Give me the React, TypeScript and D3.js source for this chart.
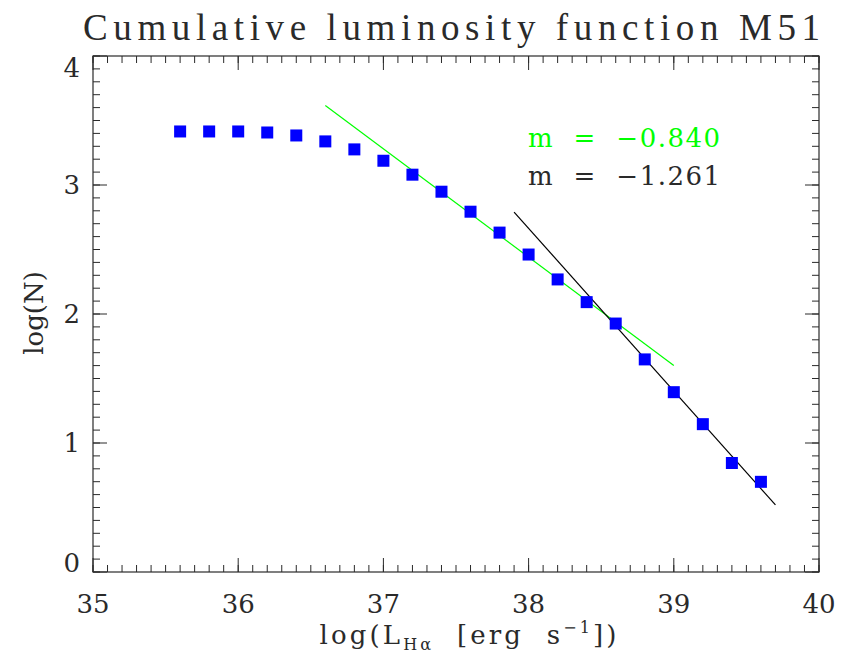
import React from "react";
import * as d3 from "d3";

const xs = [35.6, 35.8, 36.0, 36.2, 36.4, 36.6, 36.8, 37.0, 37.2, 37.4, 37.6, 37.8, 38.0, 38.2, 38.4, 38.6, 38.8, 39.0, 39.2, 39.4, 39.6];
const logN = [3.415, 3.415, 3.415, 3.407, 3.384, 3.338, 3.276, 3.188, 3.08, 2.948, 2.793, 2.631, 2.461, 2.268, 2.092, 1.926, 1.648, 1.394, 1.146, 0.845, 0.699];

const fitSlopes = [-0.84, -1.261];
const fitX0 = [36.6, 37.9];
const fitX1 = [39.0, 39.7];
const fitY0 = [3.617, 2.79];
const fitColors = ["#00ff00", "#000000"];
const fitLabels = ["m  =  \u22120.840", "m  =  \u22121.261"];

const xMajor = [35, 36, 37, 38, 39, 40];
const yMajor = [0, 1, 2, 3, 4];

const W = 841;
const H = 665;
const L = 93, R = 819, T = 56, B = 572;
const FONT = "'DejaVu Serif', serif";
const TFONT = "'Liberation Serif', serif";
const INK = "#2a2a2a";

export default function App() {
  const x = d3.scaleLinear().domain([35, 40]).range([L, R]);
  const y = d3.scaleLinear().domain([0, 4]).range([B, T]);
  const xMinor = x.ticks(50);
  const yMinor = y.ticks(40);
  const line = d3.line<[number, number]>().x((d) => x(d[0])).y((d) => y(d[1]));

  return (
    <svg width={W} height={H} style={{ position: "absolute", left: 0, top: 0, background: "#fff" }}>
      <rect x={0} y={0} width={W} height={H} fill="#fff" />
      {/* title */}
      <text x={83} y={40} fontFamily={TFONT} fontSize={37} fill={INK} textLength={737} lengthAdjust="spacing">
        Cumulative luminosity function M51
      </text>
      {/* frame */}
      <rect x={L} y={T} width={R - L} height={B - T} fill="none" stroke={INK} strokeWidth={1.2} />
      {/* minor ticks */}
      {xMinor.map((t, i) => (
        <g key={"xm" + i}>
          <line x1={x(t)} x2={x(t)} y1={B} y2={B - 7} stroke={INK} strokeWidth={1} />
          <line x1={x(t)} x2={x(t)} y1={T} y2={T + 7} stroke={INK} strokeWidth={1} />
        </g>
      ))}
      {yMinor.map((t, i) => (
        <g key={"ym" + i}>
          <line x1={L} x2={L + 7} y1={y(t)} y2={y(t)} stroke={INK} strokeWidth={1} />
          <line x1={R} x2={R - 7} y1={y(t)} y2={y(t)} stroke={INK} strokeWidth={1} />
        </g>
      ))}
      {xMajor.map((t, i) => (
        <g key={"xM" + i}>
          <line x1={x(t)} x2={x(t)} y1={B} y2={B - 14} stroke={INK} strokeWidth={1} />
          <line x1={x(t)} x2={x(t)} y1={T} y2={T + 14} stroke={INK} strokeWidth={1} />
          <text x={x(t)} y={613} textAnchor="middle" fontFamily={FONT} fontSize={26} fill={INK}>
            {t}
          </text>
        </g>
      ))}
      {yMajor.map((t, i) => {
        const cy = Math.min(Math.max(y(t), T + 12), B - 9);
        return (
          <g key={"yM" + i}>
            <line x1={L} x2={L + 14} y1={y(t)} y2={y(t)} stroke={INK} strokeWidth={1} />
            <line x1={R} x2={R - 14} y1={y(t)} y2={y(t)} stroke={INK} strokeWidth={1} />
            <text x={80} y={cy} dy="0.36em" textAnchor="end" fontFamily={FONT} fontSize={26} fill={INK}>
              {t}
            </text>
          </g>
        );
      })}
      {/* axis labels */}
      <text
        x={468}
        y={644}
        textAnchor="middle"
        fontFamily={FONT}
        fontSize={26}
        fill={INK}
        xmlSpace="preserve"
        textLength={297}
        lengthAdjust="spacing"
      >
        log(L<tspan fontSize={16} dy={6}>H&#945;</tspan>
        <tspan dy={-6}>  [erg  s</tspan>
        <tspan fontSize={16} dy={-11}>&#8722;1</tspan>
        <tspan dy={11}>])</tspan>
      </text>
      <text
        transform={`translate(43,313) rotate(-90)`}
        textAnchor="middle"
        fontFamily={FONT}
        fontSize={26}
        fill={INK}
      >
        log(N)
      </text>
      {/* fit lines */}
      {fitSlopes.map((m, i) => (
        <path
          key={"fit" + i}
          d={line([
            [fitX0[i], fitY0[i]],
            [fitX1[i], fitY0[i] + m * (fitX1[i] - fitX0[i])],
          ]) || ""}
          stroke={fitColors[i]}
          strokeWidth={1.2}
          fill="none"
        />
      ))}
      {/* data squares */}
      {xs.map((v, i) => (
        <rect key={"p" + i} x={x(v) - 6} y={y(logN[i]) - 6} width={12} height={12} fill="#0000ff" />
      ))}
      {/* legend */}
      {fitLabels.map((s, i) => (
        <text
          key={"lab" + i}
          x={528}
          y={147 + i * 38}
          fontFamily={FONT}
          fontSize={26}
          fill={i === 0 ? fitColors[0] : INK}
          xmlSpace="preserve"
          textLength={192}
          lengthAdjust="spacing"
        >
          {s}
        </text>
      ))}
    </svg>
  );
}
